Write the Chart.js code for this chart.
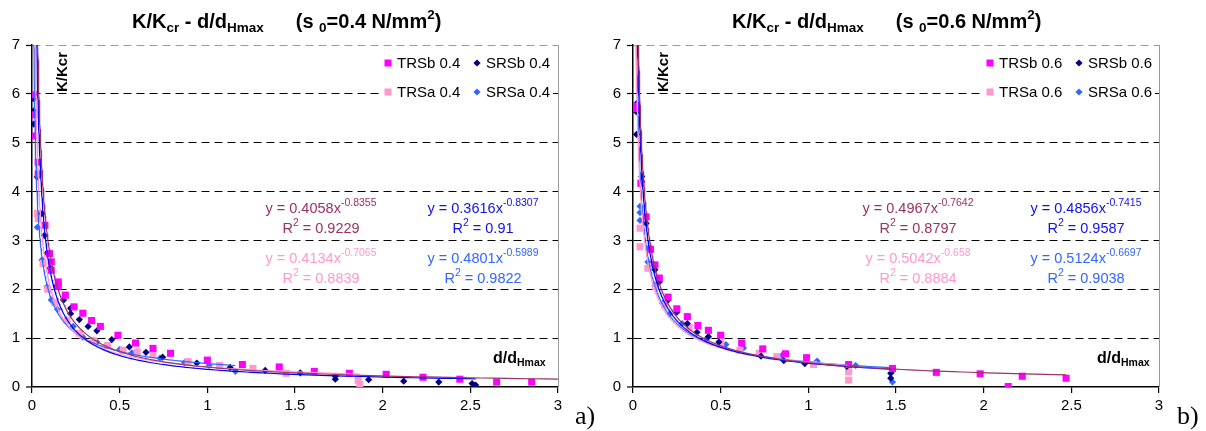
<!DOCTYPE html>
<html>
<head>
<meta charset="utf-8">
<script src="https://cdn.jsdelivr.net/npm/chart.js@4.4.0/dist/chart.umd.min.js"></script>
<style>
  body { margin: 0; background: #fff; }
  .wrap { position: absolute; top: 0; }
</style>
</head>
<body>
<div class="wrap" style="left:0"><canvas id="chartA" width="600" height="431"></canvas></div>
<div class="wrap" style="left:600px"><canvas id="chartB" width="606" height="431"></canvas></div>
<script>
// ---- a) s0 = 0.4 N/mm2 : [d/dHmax, K/Kcr]
const trsb04 = [[0.01,5.98],[0.01,5.57],[0.01,5.14],[0.035,4.6],[0.035,4.36],[0.074,3.31],[0.1,2.73],[0.11,2.56],[0.11,2.39],
  [0.15,2.15],[0.15,2.06],[0.19,1.88],[0.24,1.64],[0.29,1.51],[0.34,1.36],[0.39,1.24],[0.49,1.06],[0.59,0.9],[0.69,0.79],
  [0.79,0.69],[1.0,0.55],[1.2,0.46],[1.41,0.41],[1.61,0.32],[1.81,0.28],[2.02,0.26],[2.23,0.2],[2.44,0.16],[2.65,0.1],[2.85,0.1]];
const srsb04 = [[0.01,5.9],[0.01,5.65],[0.01,5.38],[0.03,4.3],[0.057,3.55],[0.07,3.1],[0.085,2.74],[0.103,2.43],[0.14,2.06],
  [0.18,1.78],[0.22,1.61],[0.22,1.5],[0.27,1.38],[0.32,1.24],[0.37,1.15],[0.455,0.97],[0.555,0.82],[0.65,0.71],[0.745,0.61],
  [0.94,0.49],[1.13,0.4],[1.33,0.34],[1.53,0.29],[1.73,0.22],[1.73,0.16],[1.92,0.15],[2.12,0.12],[2.32,0.1],[2.51,0.07],[2.53,0.04]];
const trsa04 = [[0.03,3.55],[0.035,3.45],[0.063,2.53],[0.09,2.0],[0.13,1.73],[0.2,1.36],[0.27,1.1],[0.35,0.95],[0.43,0.85],
  [0.52,0.75],[0.6,0.72],[0.69,0.67],[0.89,0.52],[1.07,0.44],[1.26,0.38],[1.45,0.28],[1.86,0.14],[1.87,0.05]];
const srsa04 = [[0.03,3.51],[0.03,3.27],[0.057,2.6],[0.085,2.05],[0.11,1.78],[0.145,1.59],[0.235,1.24],[0.29,1.02],[0.37,0.92],
  [0.43,0.85],[0.5,0.77],[0.57,0.7],[0.73,0.59],[0.87,0.5],[1.01,0.44],[1.16,0.32]];

// ---- b) s0 = 0.6 N/mm2
const trsb06 = [[0.02,5.75],[0.02,5.7],[0.045,4.17],[0.075,3.48],[0.1,2.82],[0.125,2.5],[0.15,2.23],[0.2,1.84],[0.25,1.6],
  [0.31,1.44],[0.37,1.26],[0.43,1.16],[0.5,1.06],[0.62,0.9],[0.74,0.78],[0.87,0.68],[0.99,0.6],[1.23,0.46],[1.48,0.38],
  [1.73,0.3],[1.98,0.27],[2.14,0.01],[2.22,0.22],[2.47,0.18]];
const srsb06 = [[0.02,5.8],[0.02,5.63],[0.02,5.17],[0.05,4.31],[0.05,4.2],[0.075,3.35],[0.1,2.84],[0.125,2.49],[0.125,2.4],
  [0.15,2.15],[0.2,1.78],[0.25,1.53],[0.31,1.3],[0.365,1.12],[0.43,1.03],[0.49,0.92],[0.73,0.63],[0.86,0.54],[0.98,0.48],
  [1.22,0.42],[1.47,0.28],[1.47,0.18]];
const trsa06 = [[0.04,3.25],[0.04,2.87],[0.085,2.43],[0.13,2.05],[0.18,1.68],[0.32,1.22],[0.5,0.9],[0.61,0.75],[0.72,0.69],
  [0.82,0.62],[1.03,0.46],[1.23,0.31],[1.23,0.14]];
const srsa06 = [[0.04,3.7],[0.04,3.57],[0.04,3.41],[0.085,2.56],[0.125,2.08],[0.17,1.71],[0.21,1.5],[0.28,1.3],[0.42,0.99],
  [0.53,0.87],[0.63,0.8],[0.85,0.65],[1.05,0.53],[1.27,0.44],[1.48,0.33],[1.48,0.1]];

// power trendlines y = a*x^b as printed on the chart, order TRSb, SRSb, TRSa, SRSa
const coefA04 = [0.4058, 0.3616, 0.4134, 0.4801];
const expB04 = [-0.8355, -0.8307, -0.7065, -0.5989];
const r2_04 = ['0.9229', '0.91', '0.8839', '0.9822'];
const trendEnd04 = [3.0, 2.53, 1.87, 1.16];
const coefA06 = [0.4967, 0.4856, 0.5042, 0.5124];
const expB06 = [-0.7642, -0.7415, -0.658, -0.6697];
const r2_06 = ['0.8797', '0.9587', '0.8884', '0.9038'];
const trendEnd06 = [2.47, 1.47, 1.23, 1.48];

const xTicks = [0, 0.5, 1, 1.5, 2, 2.5, 3];
const yTicks = [0, 1, 2, 3, 4, 5, 6, 7];

const markColor = ['#ff00ff', '#000080', '#ff99cc', '#3366ff'];
const trendColor = ['#993366', '#0000ff', '#ff99cc', '#3366ff'];
const eqColor = ['#993366', '#1010f0', '#ff99cc', '#3366ff'];
const markStyle = ['rect', 'rectRot', 'rect', 'rectRot'];
const markRadius = [5, 3.6, 5, 3.6];

function trendPoints(a, b, end) {
  const pts = [];
  const x0 = 0.006;
  for (let i = 0; i <= 240; i++) {
    const x = x0 * Math.pow(end / x0, i / 240);
    pts.push({ x: x, y: a * Math.pow(x, b) });
  }
  return pts;
}

function richWidth(ctx, parts) {
  let w = 0;
  parts.forEach(p => {
    if (p.gap) { w += p.gap; return; }
    ctx.font = (p.b ? 'bold ' : '') + p.s + 'px Arial';
    w += ctx.measureText(p.t).width;
  });
  return w;
}
function drawRich(ctx, parts, x, y) {
  let cx = x;
  parts.forEach(p => {
    if (p.gap) { cx += p.gap; return; }
    ctx.font = (p.b ? 'bold ' : '') + p.s + 'px Arial';
    ctx.fillText(p.t, cx, y + (p.dy || 0));
    cx += ctx.measureText(p.t).width;
  });
}

const decor = {
  id: 'decor',
  afterDraw(chart) {
    const o = chart.options.plugins.decor;
    const ctx = chart.ctx;
    const a = chart.chartArea;
    ctx.save();
    // right border of plot area
    ctx.strokeStyle = '#999';
    ctx.lineWidth = 1;
    ctx.beginPath();
    ctx.moveTo(a.right + 0.5, a.top);
    ctx.lineTo(a.right + 0.5, a.bottom);
    ctx.stroke();

    ctx.textBaseline = 'alphabetic';
    ctx.textAlign = 'left';
    ctx.fillStyle = '#000';
    // title
    drawRich(ctx, [
      { t: 'K/K', s: 20, b: true }, { t: 'cr', s: 13.5, dy: 4, b: true }, { t: ' - d/d', s: 20, b: true },
      { t: 'Hmax', s: 13.5, dy: 4, b: true }, { gap: 32 }, { t: '(s ', s: 20, b: true }, { t: '0', s: 13.5, dy: 4, b: true },
      { t: '=' + o.s0 + ' N/mm', s: 20, b: true }, { t: '2', s: 13.5, dy: -9, b: true }, { t: ')', s: 20, b: true }
    ], o.titleX, 28);

    // axis captions
    ctx.save();
    ctx.translate(o.yLabX, 72);
    ctx.rotate(-Math.PI / 2);
    ctx.textAlign = 'center';
    ctx.textBaseline = 'middle';
    ctx.font = 'bold 15px Arial';
    ctx.fillText('K/Kcr', 0, 0);
    ctx.restore();
    drawRich(ctx, [{ t: 'd/d', s: 16, b: true }, { t: 'Hmax', s: 10.5, dy: 3, b: true }], o.xLabX, 363);

    // panel letter
    ctx.font = '26px "Liberation Serif", "Times New Roman", serif';
    ctx.fillText(o.letter, o.letterX, 424);

    // legend
    ctx.fillStyle = '#fff';
    ctx.fillRect(o.legX - 8, 50, 173, 55);
    const legPos = [[o.legX, 63], [o.legX + 89, 63], [o.legX, 92], [o.legX + 89, 92]];
    o.names.forEach((n, i) => {
      const [mx, my] = legPos[i];
      ctx.fillStyle = markColor[i];
      if (markStyle[i] === 'rect') {
        ctx.fillRect(mx - 3.5, my - 3.5, 7, 7);
      } else {
        ctx.beginPath();
        ctx.moveTo(mx, my - 3.6); ctx.lineTo(mx + 3.6, my); ctx.lineTo(mx, my + 3.6); ctx.lineTo(mx - 3.6, my);
        ctx.closePath();
        ctx.fill();
      }
      ctx.fillStyle = '#000';
      ctx.font = '15px Arial';
      ctx.textBaseline = 'middle';
      ctx.fillText(n, mx + 9, my + 1);
    });
    ctx.textBaseline = 'alphabetic';

    // trendline equations
    const cols = [o.eqX[0], o.eqX[1], o.eqX[0], o.eqX[1]];
    const rows = [213, 213, 263, 263];
    for (let i = 0; i < 4; i++) {
      ctx.fillStyle = eqColor[i];
      const eq = [{ t: 'y = ' + o.coef[i].toFixed(4) + 'x', s: 14.5 }, { t: String(o.expo[i]), s: 10.5, dy: -7 }];
      const r2 = [{ t: 'R', s: 14.5 }, { t: '2', s: 10.5, dy: -7 }, { t: ' = ' + o.r2[i], s: 14.5 }];
      drawRich(ctx, eq, cols[i] - richWidth(ctx, eq) / 2, rows[i]);
      drawRich(ctx, r2, cols[i] - richWidth(ctx, r2) / 2, rows[i] + 20);
    }
    ctx.restore();
  }
};

function makeChart(id, series, names, coef, expo, r2, ends, o) {
  const datasets = [];
  for (let i = 0; i < 4; i++) {
    datasets.push({
      label: names[i] + ' trend',
      data: trendPoints(coef[i], expo[i], ends[i]),
      showLine: true, pointRadius: 0, borderColor: trendColor[i], borderWidth: 1.2, fill: false
    });
  }
  for (let i = 0; i < 4; i++) {
    datasets.push({
      label: names[i],
      data: series[i].map(p => ({ x: p[0], y: p[1] })),
      pointStyle: markStyle[i], pointRadius: markRadius[i], pointBorderWidth: 0,
      backgroundColor: markColor[i], borderColor: markColor[i], showLine: false
    });
  }
  return new Chart(document.getElementById(id), {
    type: 'scatter',
    data: { datasets: datasets },
    options: {
      responsive: false, animation: false, devicePixelRatio: 1,
      layout: { padding: { left: 0, right: o.padRight, top: 45, bottom: 0 } },
      plugins: {
        legend: { display: false }, tooltip: { enabled: false },
        decor: Object.assign({ names: names, coef: coef, expo: expo, r2: r2 }, o)
      },
      scales: {
        x: {
          type: 'linear', min: 0, max: 3,
          afterFit: s => { s.height = 44; },
          afterBuildTicks: s => { s.ticks = xTicks.map(v => ({ value: v })); },
          ticks: { color: '#000', font: { family: 'Arial', size: 15 }, padding: 4, maxRotation: 0,
            callback: v => String(v) },
          grid: { drawOnChartArea: false, tickLength: 6, color: '#000', lineWidth: 1.2 },
          border: { color: '#000', width: 1.5 }
        },
        y: {
          min: 0, max: 7,
          afterFit: s => { s.width = o.yWidth; },
          afterBuildTicks: s => { s.ticks = yTicks.map(v => ({ value: v })); },
          ticks: { color: '#000', font: { family: 'Arial', size: 15 }, padding: 6, callback: v => String(v) },
          grid: {
            tickLength: 6, tickColor: '#000', tickWidth: 1.2,
            color: c => c.tick && c.tick.value === 7 ? '#999' : '#000',
            lineWidth: c => c.tick && c.tick.value === 0 ? 0 : 1
          },
          border: { color: '#000', width: 1.5, dash: [8, 5] }
        }
      }
    },
    plugins: [decor]
  });
}

makeChart('chartA', [trsb04, srsb04, trsa04, srsa04], ['TRSb 0.4', 'SRSb 0.4', 'TRSa 0.4', 'SRSa 0.4'],
  coefA04, expB04, r2_04, trendEnd04,
  { s0: '0.4', titleX: 132, yLabX: 63, xLabX: 493, letter: 'a)', letterX: 575, legX: 388, eqX: [321, 483],
    padRight: 42, yWidth: 32 });
makeChart('chartB', [trsb06, srsb06, trsa06, srsa06], ['TRSb 0.6', 'SRSb 0.6', 'TRSa 0.6', 'SRSa 0.6'],
  coefA06, expB06, r2_06, trendEnd06,
  { s0: '0.6', titleX: 132, yLabX: 64, xLabX: 497, letter: 'b)', letterX: 577, legX: 390, eqX: [318, 486],
    padRight: 47, yWidth: 33 });
</script>
</body>
</html>
